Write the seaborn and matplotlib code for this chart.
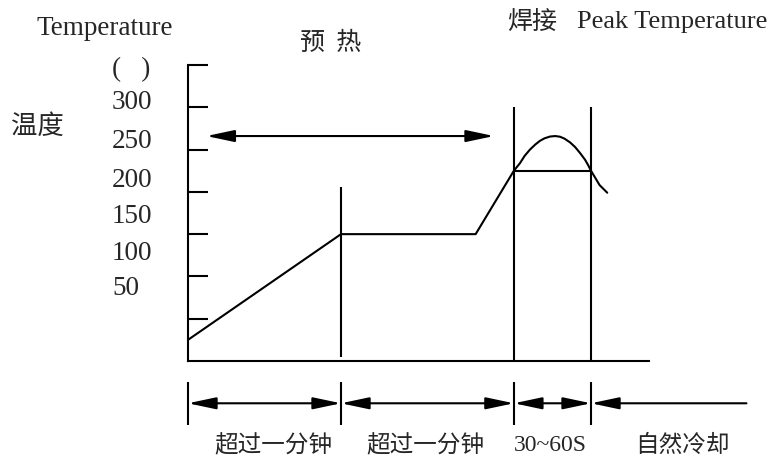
import matplotlib
matplotlib.use('Agg')  # no display
import matplotlib.pyplot as plt
import seaborn as sns

# reflow solder profile: time (arbitrary units, 0 = start) vs temperature (deg C)
profile_time = [0, 100, 188, 213, 217, 220, 223.5, 227, 230, 233, 236.6, 240,
                243.1, 246, 249.7, 253, 256.2, 259.5, 261.4, 263.4, 269, 274]
profile_temp = [25, 150, 150, 225, 234, 242.5, 250, 256, 260.3, 263.3, 265.4, 266,
                265.2, 263, 258.5, 253, 246, 238, 232, 225, 208, 199]

# zone boundaries on the time axis
zone_edges = [0, 100, 213, 263.4]
cool_end = 365
zone_labels = ['超过一分钟', '超过一分钟', '30~60S', '自然冷却']
zone_label_time = [56, 155, 237, 323]

# vertical markers
soak_end_top = 206
reflow_top = 300
liquidus = 225
preheat_arrow = (12, 200, 266)

# temperature axis
ytick_temps = [50, 100, 150, 200, 250, 300, 350]
ytick_labels = ['300', '250', '200', '150', '100', '50']
ytick_label_temp = [306, 260, 213, 171, 127, 86]

sns.set_style('white')
plt.rcParams['font.family'] = ['Liberation Serif', 'Noto Sans CJK SC']
cjk = 'Noto Sans CJK SC'
serif = 'Liberation Serif'

fig = plt.figure(figsize=(7.77, 4.59), dpi=100)
ax = fig.add_axes([188 / 777, 98 / 459, 461 / 777, 296 / 459])

sns.lineplot(x=profile_time, y=profile_temp, ax=ax, color='black', lw=1.5,
             sort=False, clip_on=False)

# end of soak marker and reflow window
ax.vlines(zone_edges[1], 5, soak_end_top, color='black', lw=1.5)
ax.vlines(zone_edges[2:], 0, reflow_top, color='black', lw=1.5, clip_on=False)
ax.hlines(liquidus, zone_edges[2], zone_edges[3], color='black', lw=1.5)

head = 'head_length=0.85,head_width=0.18'
arrow_kw = dict(arrowstyle='<|-|>,' + head, color='black',
                lw=1.5, mutation_scale=20, shrinkA=0, shrinkB=0)
ax.annotate('', xy=(preheat_arrow[0], preheat_arrow[2]),
            xytext=(preheat_arrow[1], preheat_arrow[2]), arrowprops=arrow_kw,
            annotation_clip=False)

# timing row under the axis
bar_lo, bar_hi, arrow_y, label_y = -76, -25, -50, -100
ax.vlines(zone_edges, bar_lo, bar_hi, color='black', lw=1.5, clip_on=False)
for a, b in zip(zone_edges[:-1], zone_edges[1:]):
    ax.annotate('', xy=(a, arrow_y), xytext=(b, arrow_y), arrowprops=arrow_kw,
                annotation_clip=False)
one_side = dict(arrow_kw, arrowstyle='-|>,' + head)
ax.annotate('', xy=(zone_edges[-1], arrow_y), xytext=(cool_end, arrow_y),
            arrowprops=one_side, annotation_clip=False)
for t, lab in zip(zone_label_time, zone_labels):
    fam = serif if lab[0].isdigit() else cjk
    ax.text(t, label_y, lab, ha='center', va='center', fontsize=17, family=fam)

# axes styling
ax.set_xlim(0, 301.3)
ax.set_ylim(0, 350)
sns.despine(ax=ax)
for s in ['left', 'bottom']:
    ax.spines[s].set_linewidth(1.5)
    ax.spines[s].set_color('black')
ax.set_xticks([])
ax.set_yticks(ytick_temps)
ax.tick_params(axis='y', left=True, direction='in', length=14.5, width=1.5,
               color='black', labelleft=False)

# temperature labels (drawn beside the axis as in the original)
for T, lab in zip(ytick_label_temp, ytick_labels):
    ax.text(-49.7, T, lab, ha='left', va='center', fontsize=19.5, family=serif)
ax.text(-49.7, 344, '(   )', ha='left', va='center', fontsize=19.5, family=serif)
ax.text(-54.2, 392.6, 'Temperature', ha='center', va='center', fontsize=19.5, family=serif)
ax.text(-98.7, 278, '温度', ha='center', va='center', fontsize=19, family=cjk)
ax.text(93.5, 376, '预  热', ha='center', va='center', fontsize=18, family=cjk)
ax.text(224.8, 401, '焊接', ha='center', va='center', fontsize=18, family=cjk)
ax.text(254.2, 401, 'Peak Temperature', ha='left', va='center', fontsize=19, family=serif)

fig.savefig('out.png', dpi=100)
plt.close(fig)
